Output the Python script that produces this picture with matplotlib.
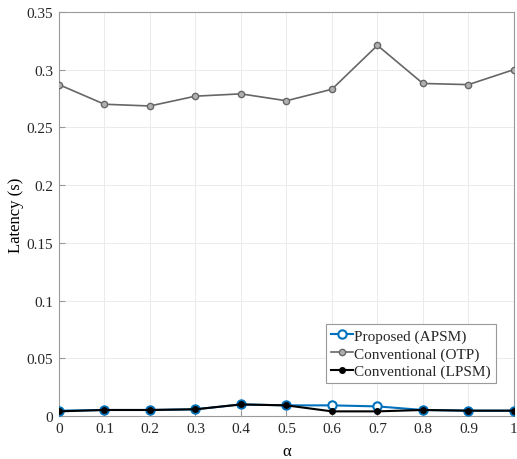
import matplotlib.pyplot as plt
import numpy as np

alpha = [0, 0.1, 0.2, 0.3, 0.4, 0.5, 0.6, 0.7, 0.8, 0.9, 1.0]
apsm = [0.0046, 0.0052, 0.0052, 0.0058, 0.0100, 0.0092, 0.0092, 0.0083, 0.0052, 0.0046, 0.0046]
otp = [0.287, 0.270, 0.2685, 0.277, 0.279, 0.273, 0.283, 0.321, 0.288, 0.287, 0.300]
lpsm = [0.0040, 0.0052, 0.0052, 0.0058, 0.0100, 0.0092, 0.0040, 0.0040, 0.0052, 0.0046, 0.0046]

xtick_labels = ['0', '0.1', '0.2', '0.3', '0.4', '0.5', '0.6', '0.7', '0.8', '0.9', '1']
ytick_vals = [0, 0.05, 0.1, 0.15, 0.2, 0.25, 0.3, 0.35]
ytick_labels = ['0', '0.05', '0.1', '0.15', '0.2', '0.25', '0.3', '0.35']

plt.rcParams['font.family'] = ['Liberation Serif', 'DejaVu Serif']
plt.rcParams['font.size'] = 11
plt.rcParams['text.color'] = '#262626'

fig = plt.figure(figsize=(5.17, 4.6), dpi=100)
ax = fig.add_axes([0.114, 0.0935, 0.880, 0.8785])

ax.plot(alpha, apsm, color='#0072BD', linewidth=1.5, marker='o', markersize=6,
        markerfacecolor='white', markeredgewidth=1.5, label='Proposed (APSM)', zorder=3)
ax.plot(alpha, otp, color='#666666', linewidth=1.2, marker='o', markersize=4.5,
        markerfacecolor='#b0b0b0', markeredgewidth=1.0, label='Conventional (OTP)', zorder=3)
ax.plot(alpha, lpsm, color='black', linewidth=1.5, marker='o', markersize=4,
        markerfacecolor='black', label='Conventional (LPSM)', zorder=4)

ax.set_xlim(0, 1)
ax.set_ylim(0, 0.35)
ax.set_xticks(alpha)
ax.set_xticklabels(xtick_labels)
ax.set_yticks(ytick_vals)
ax.set_yticklabels(ytick_labels)
ax.tick_params(direction='in', length=4, color='#999999', labelcolor='#262626',
               labelsize=11, pad=4)
ax.grid(True, color='#ebebeb', linewidth=0.7)
ax.set_axisbelow(True)
for s in ax.spines.values():
    s.set_color('#999999')
    s.set_linewidth(0.8)

ax.set_xlabel('α', fontsize=12, labelpad=6)
ax.set_ylabel('Latency (s)', fontsize=12, labelpad=2)

leg = ax.legend(loc='lower right', bbox_to_anchor=(0.96, 0.082), fontsize=11,
                fancybox=False, edgecolor='#999999', framealpha=1,
                handlelength=1.45, handletextpad=0.1, borderpad=0.3, labelspacing=0.25,
                borderaxespad=0)
leg.get_frame().set_linewidth(0.8)

fig.savefig('out.png', dpi=100)
